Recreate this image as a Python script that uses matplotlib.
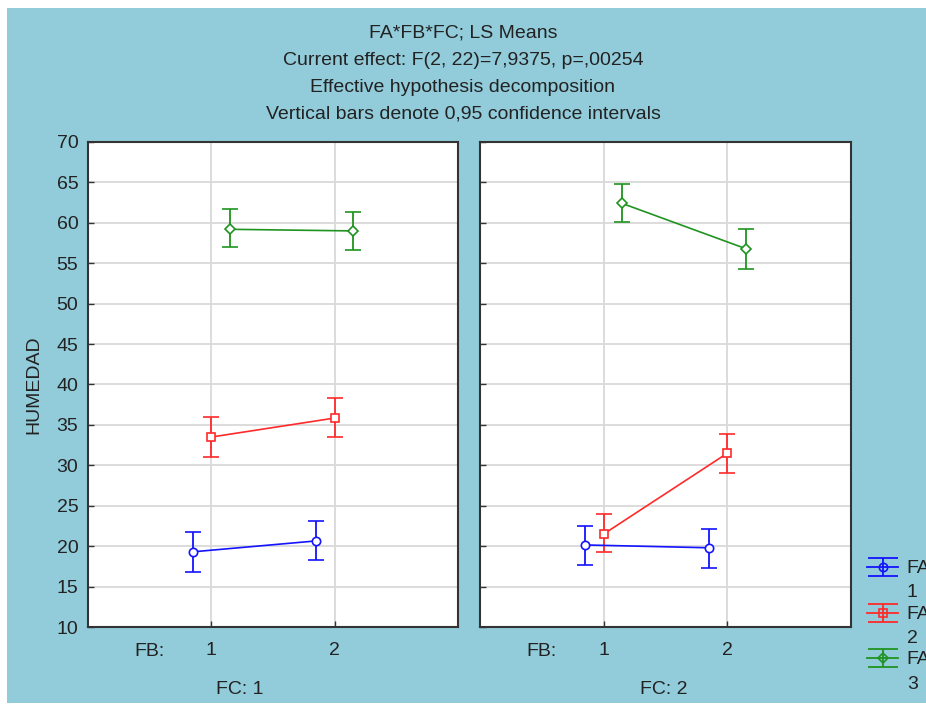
import matplotlib.pyplot as plt
from matplotlib.patches import Rectangle
from matplotlib.lines import Line2D
from matplotlib.path import Path
from matplotlib.legend_handler import HandlerTuple

plt.rcParams['font.family'] = ['Liberation Sans', 'DejaVu Sans']

# LS means per FC panel, per FA level, at FB = 1, 2
fb_levels = [1, 2]
fa_labels = ['FA\n1', 'FA\n2', 'FA\n3']
fc_labels = ['FC: 1', 'FC: 2']

means_fc1 = [[19.3, 20.65], [33.5, 35.85], [59.2, 59.0]]
lo_fc1 = [[16.85, 18.3], [31.0, 33.5], [57.0, 56.6]]
hi_fc1 = [[21.75, 23.1], [36.0, 38.3], [61.7, 61.3]]

means_fc2 = [[20.15, 19.8], [21.5, 31.5], [62.4, 56.8]]
lo_fc2 = [[17.7, 17.3], [19.3, 29.05], [60.1, 54.3]]
hi_fc2 = [[22.5, 22.1], [24.0, 33.9], [64.8, 59.2]]

colors = ['#1414ff', '#ff2a2a', '#1f9420']
markers = ['o', 's', 'D']
msizes = [6, 6, 5]
offsets = [-0.15, 0.0, 0.15]
bg = '#92ccda'
fs = 14
txt = '#222222'


class ShiftedTuple(HandlerTuple):
    # put the legend key level with the first line of a two-line label
    def create_artists(self, legend, orig_handle, xdescent, ydescent, width, height,
                       fontsize, trans):
        return super().create_artists(legend, orig_handle, xdescent, ydescent - 19.5,
                                      width, height, fontsize, trans)


fig = plt.figure(figsize=(9.26, 7.06), dpi=100)
fig.patch.set_facecolor('white')
fig.add_artist(Rectangle((7 / 926, 3 / 706), 1, 1 - 11 / 706, transform=fig.transFigure,
                         facecolor=bg, edgecolor='none', zorder=-10))

title = ('FA*FB*FC; LS Means\nCurrent effect: F(2, 22)=7,9375, p=,00254\n'
         'Effective hypothesis decomposition\nVertical bars denote 0,95 confidence intervals')
fig.text(0.5, 1 - 24.5 / 706, title, ha='center', va='top', fontsize=fs,
         color=txt, linespacing=1.77)

ax1 = fig.add_axes([88 / 926, 1 - 627 / 706, 370 / 926, 485 / 706])
ax2 = fig.add_axes([480 / 926, 1 - 627 / 706, 371 / 926, 485 / 706])

panels = [(ax1, means_fc1, lo_fc1, hi_fc1, 0.41), (ax2, means_fc2, lo_fc2, hi_fc2, 0.496)]
for ax, means, lo, hi, fcx in panels:
    ax.set_facecolor('white')
    for i in range(3):
        xs = [fb + offsets[i] for fb in fb_levels]
        err = [[m - l for m, l in zip(means[i], lo[i])], [h - m for m, h in zip(means[i], hi[i])]]
        ax.errorbar(xs, means[i], yerr=err, color=colors[i], lw=1.2, elinewidth=1.3,
                    capsize=5.5, capthick=1.3, marker=markers[i], ms=msizes[i],
                    mfc='white', mec=colors[i], mew=1.2, zorder=3)
    ax.set_xlim(0, 3)
    ax.set_ylim(10, 70)
    ax.set_xticks(fb_levels)
    ax.set_xticklabels([str(v) for v in fb_levels])
    ax.set_yticks(range(10, 71, 5))
    ax.grid(True, color='#d9d9d9', lw=1.3)
    ax.set_axisbelow(True)
    ax.tick_params(direction='in', length=4, width=1, color='#333333', labelsize=fs,
                   labelcolor=txt)
    ax.tick_params(axis='x', pad=11)
    ax.tick_params(axis='y', pad=7)
    for s in ax.spines.values():
        s.set_color('#333333')
        s.set_linewidth(1.5)
    ax.text(0.5, -24 / 485, 'FB:', transform=ax.get_xaxis_transform(), ha='center',
            va='center', fontsize=fs, color=txt)
    ax.text(fcx, -62 / 485, fc_labels[ax is ax2], transform=ax.transAxes, ha='center',
            va='center', fontsize=fs, color=txt)

ax2.set_yticklabels([])
ax1.set_ylabel('HUMEDAD', fontsize=fs, color=txt, labelpad=10)

# legend keys: error bar with wide caps plus the group marker
errbar = Path([(-1, 0.6), (1, 0.6), (-1, -0.6), (1, -0.6), (0, -0.6), (0, 0.6)],
              [Path.MOVETO, Path.LINETO, Path.MOVETO, Path.LINETO, Path.MOVETO, Path.LINETO])
handles = []
for i in range(3):
    bar = Line2D([], [], color=colors[i], lw=1.3, marker=errbar, ms=22, mew=1.3,
                 mfc='none', mec=colors[i])
    mk = Line2D([], [], ls='none', marker=markers[i], ms=msizes[i], mfc='none',
                mec=colors[i], mew=1.2)
    handles.append((bar, mk))

leg = fig.legend(handles=handles, labels=fa_labels, loc='upper left',
                 bbox_to_anchor=(867 / 926, 1 - 560 / 706), frameon=False, fontsize=fs,
                 handlelength=1.6, handletextpad=0.45, labelspacing=0.22, borderaxespad=0,
                 borderpad=0, handler_map={tuple: ShiftedTuple(ndivide=1)})
for t in leg.get_texts():
    t.set_linespacing(1.57)
    t.set_color(txt)

fig.savefig('out.png', dpi=100, facecolor=fig.get_facecolor())
